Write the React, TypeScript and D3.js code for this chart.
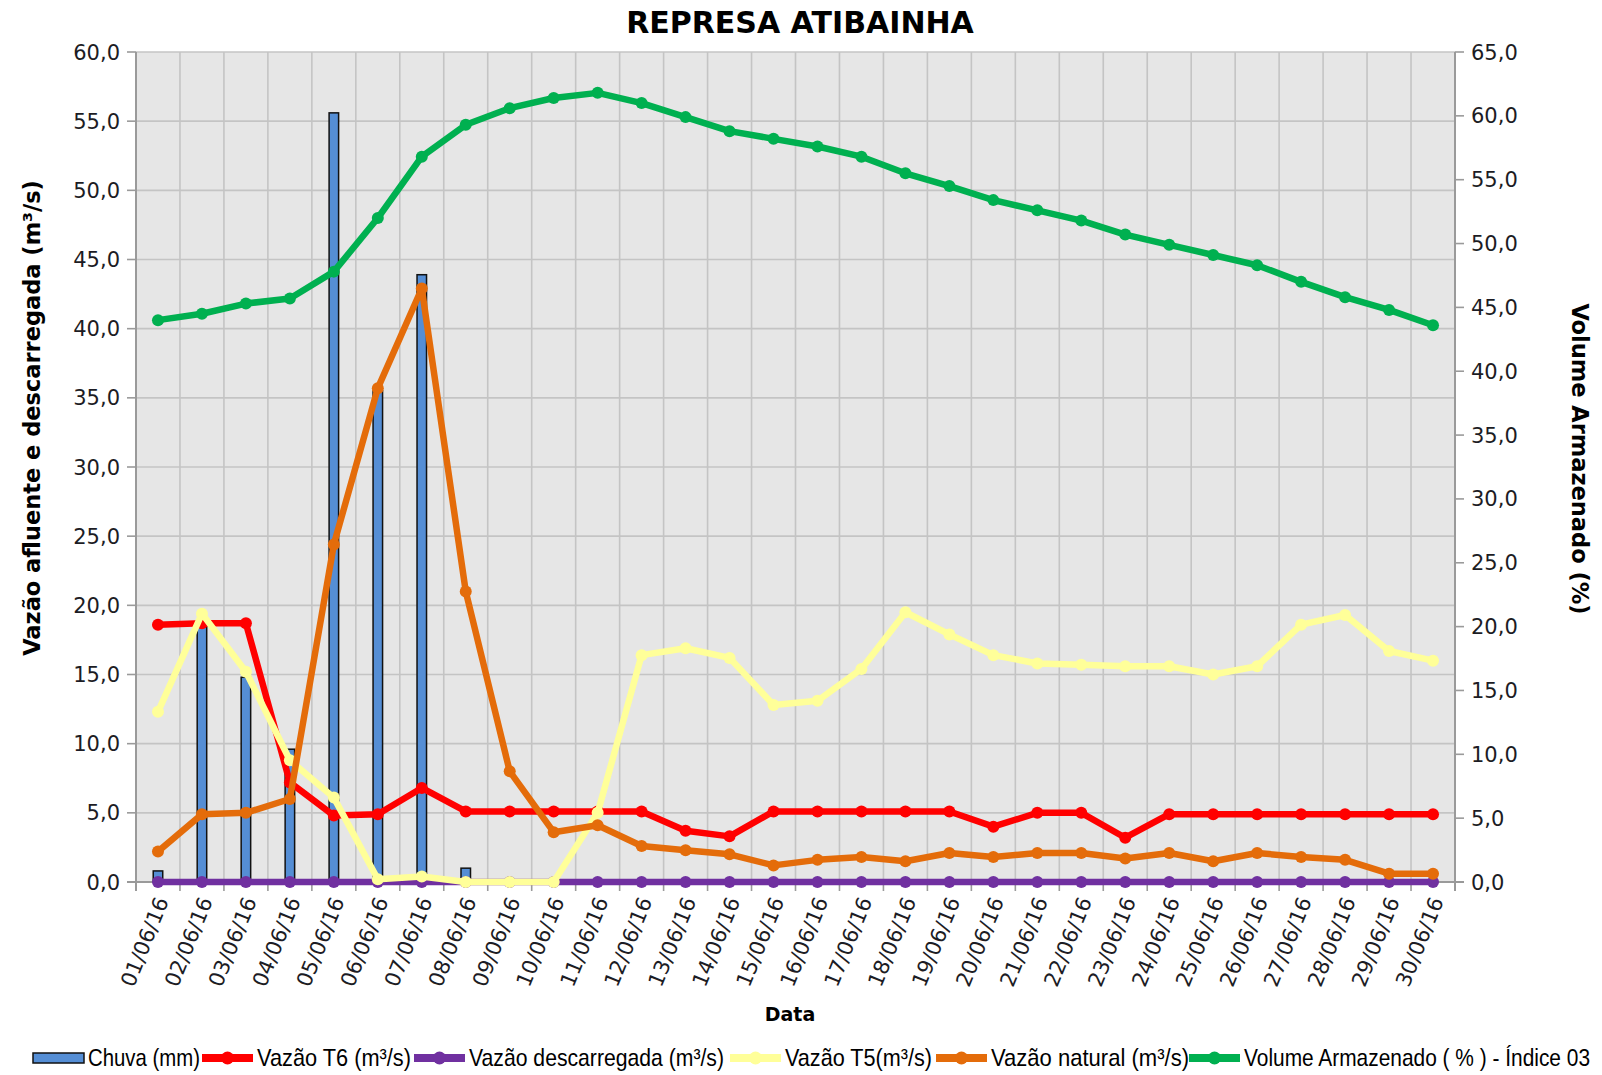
import React from 'react';
import * as d3 from 'd3';

const dates = [
  '01/06/16', '02/06/16', '03/06/16', '04/06/16', '05/06/16', '06/06/16', '07/06/16', '08/06/16', '09/06/16', '10/06/16',
  '11/06/16', '12/06/16', '13/06/16', '14/06/16', '15/06/16', '16/06/16', '17/06/16', '18/06/16', '19/06/16', '20/06/16',
  '21/06/16', '22/06/16', '23/06/16', '24/06/16', '25/06/16', '26/06/16', '27/06/16', '28/06/16', '29/06/16', '30/06/16',
];

const chuva = [0.8, 18.7, 14.8, 9.6, 55.6, 35.5, 43.9, 1.0, 0, 0, 0, 0, 0, 0, 0, 0, 0, 0, 0, 0, 0, 0, 0, 0, 0, 0, 0, 0, 0, 0];
const vazaoT6 = [18.6, 18.7, 18.7, 7.2, 4.8, 4.9, 6.8, 5.1, 5.1, 5.1, 5.1, 5.1, 3.7, 3.3, 5.1, 5.1, 5.1, 5.1, 5.1, 4.0, 5.0, 5.0, 3.2, 4.9, 4.9, 4.9, 4.9, 4.9, 4.9, 4.9];
const vazaoDescarregada = [0, 0, 0, 0, 0, 0, 0, 0, 0, 0, 0, 0, 0, 0, 0, 0, 0, 0, 0, 0, 0, 0, 0, 0, 0, 0, 0, 0, 0, 0];
const vazaoT5 = [12.3, 19.4, 15.2, 8.8, 6.1, 0.2, 0.4, 0.0, 0.0, 0.0, 5.0, 16.4, 16.9, 16.2, 12.8, 13.1, 15.4, 19.5, 17.9, 16.4, 15.8, 15.7, 15.6, 15.6, 15.0, 15.6, 18.6, 19.3, 16.7, 16.0];
const vazaoNatural = [2.2, 4.9, 5.0, 6.0, 24.4, 35.7, 42.9, 21.0, 8.0, 3.6, 4.1, 2.6, 2.3, 2.0, 1.2, 1.6, 1.8, 1.5, 2.1, 1.8, 2.1, 2.1, 1.7, 2.1, 1.5, 2.1, 1.8, 1.6, 0.6, 0.6];
const volume = [44.0, 44.5, 45.3, 45.7, 47.8, 52.0, 56.8, 59.3, 60.6, 61.4, 61.8, 61.0, 59.9, 58.8, 58.2, 57.6, 56.8, 55.5, 54.5, 53.4, 52.6, 51.8, 50.7, 49.9, 49.1, 48.3, 47.0, 45.8, 44.8, 43.6];

const leftTicks = [0, 5, 10, 15, 20, 25, 30, 35, 40, 45, 50, 55, 60];
const rightTicks = [0, 5, 10, 15, 20, 25, 30, 35, 40, 45, 50, 55, 60, 65];

const W = 1602;
const H = 1075;
const X0 = 136;
const X1 = 1455;
const Y0 = 52;
const Y1 = 882;

const TICK_FONT = '"DejaVu Sans", Verdana, sans-serif';
const TEXT = '#1c1c24';

export default function App() {
  const x = d3.scaleBand<string>().domain(dates).range([X0, X1]).padding(0);
  const yL = d3.scaleLinear().domain([0, 60]).range([Y1, Y0]);
  const yR = d3.scaleLinear().domain([0, 65]).range([Y1, Y0]);
  const cx = (d: string) => (x(d) as number) + x.bandwidth() / 2;
  const fmt = (v: number) => d3.format('.1f')(v).replace('.', ',');

  const series = [
    { name: 'Vazão T6 (m³/s)', values: vazaoT6, color: '#ff0000', y: yL },
    { name: 'Vazão descarregada (m³/s)', values: vazaoDescarregada, color: '#7030a0', y: yL },
    { name: 'Vazão T5(m³/s)', values: vazaoT5, color: '#ffff99', y: yL },
    { name: 'Vazão natural (m³/s)', values: vazaoNatural, color: '#e46c0a', y: yL },
    { name: 'Volume Armazenado ( % ) - Índice 03', values: volume, color: '#00b050', y: yR },
  ];

  const barW = 9.5;
  const legendSym = [33, 202, 414, 730, 936, 1189];
  const legendTextW = [112, 154, 255, 147, 198, 346];
  const legendY = 1058;
  const sx = 0.85;

  const legendText = (k: number, label: string) => (
    <text
      transform={`translate(${legendSym[k] + 55},${legendY}) scale(${sx},1)`}
      dy="0.35em"
      textLength={legendTextW[k] / sx}
      lengthAdjust="spacingAndGlyphs"
    >
      {label}
    </text>
  );

  return (
    <svg width={W} height={H} style={{ position: 'absolute', left: 0, top: 0, display: 'block', background: '#fff' }}>
      {/* title */}
      <text x={800} y={33} textAnchor="middle" fontFamily='"DejaVu Sans", sans-serif' fontWeight="bold" fontSize={30} fill="#000">
        REPRESA ATIBAINHA
      </text>

      {/* plot background */}
      <rect x={X0} y={Y0} width={X1 - X0} height={Y1 - Y0} fill="#e6e6e6" />

      {/* horizontal gridlines */}
      {leftTicks.map((t) => (
        <line key={'hg' + t} x1={X0} x2={X1} y1={yL(t)} y2={yL(t)} stroke="#c4c4c4" strokeWidth={1.6} />
      ))}
      {/* vertical gridlines at band boundaries */}
      {dates.map((d, i) => (
        <line key={'vg' + i} x1={x(d) as number} x2={x(d) as number} y1={Y0} y2={Y1} stroke="#c4c4c4" strokeWidth={1.6} />
      ))}

      {/* axes */}
      <line x1={X0} x2={X0} y1={Y0} y2={Y1 + 9} stroke="#9a9a9a" strokeWidth={2} />
      <line x1={X1} x2={X1} y1={Y0} y2={Y1 + 9} stroke="#9a9a9a" strokeWidth={2} />
      <line x1={X0 - 9} x2={X1 + 9} y1={Y1} y2={Y1} stroke="#9a9a9a" strokeWidth={2} />
      {leftTicks.map((t) => (
        <g key={'lt' + t}>
          <line x1={X0 - 9} x2={X0} y1={yL(t)} y2={yL(t)} stroke="#9a9a9a" strokeWidth={1.6} />
          <text x={X0 - 16} y={yL(t)} dy="0.36em" textAnchor="end" fontFamily={TICK_FONT} fontSize={21} fill={TEXT}>
            {fmt(t)}
          </text>
        </g>
      ))}
      {rightTicks.map((t) => (
        <g key={'rt' + t}>
          <line x1={X1} x2={X1 + 9} y1={yR(t)} y2={yR(t)} stroke="#9a9a9a" strokeWidth={1.6} />
          <text x={X1 + 16} y={yR(t)} dy="0.36em" textAnchor="start" fontFamily={TICK_FONT} fontSize={21} fill={TEXT}>
            {fmt(t)}
          </text>
        </g>
      ))}
      {dates.map((d, i) => (
        <line key={'xt' + i} x1={(x(d) as number) + x.bandwidth()} x2={(x(d) as number) + x.bandwidth()} y1={Y1} y2={Y1 + 9} stroke="#9a9a9a" strokeWidth={1.6} />
      ))}
      {dates.map((d) => (
        <text
          key={'xl' + d}
          transform={`translate(${cx(d) + 4},${Y1 + 16}) rotate(-68)`}
          dy="0.36em"
          textAnchor="end"
          fontFamily={TICK_FONT}
          fontSize={21}
          fill={TEXT}
        >
          {d}
        </text>
      ))}

      {/* bars */}
      {dates.map((d, i) =>
        chuva[i] > 0 ? (
          <rect
            key={'b' + d}
            x={cx(d) - barW / 2}
            y={yL(chuva[i])}
            width={barW}
            height={Y1 - yL(chuva[i])}
            fill="#558ed5"
            stroke="#111"
            strokeWidth={1.5}
          />
        ) : null
      )}

      {/* lines */}
      {series.map((s) => {
        const line = d3
          .line<number>()
          .x((_, i) => cx(dates[i]))
          .y((v) => s.y(v));
        return (
          <g key={s.name}>
            <path d={line(s.values) || ''} fill="none" stroke={s.color} strokeWidth={6.5} strokeLinejoin="round" />
            {s.values.map((v, i) => (
              <circle key={i} cx={cx(dates[i])} cy={s.y(v)} r={6} fill={s.color} />
            ))}
          </g>
        );
      })}

      {/* axis titles */}
      <text
        transform={`translate(40,418) rotate(-90)`}
        textAnchor="middle"
        fontFamily='"DejaVu Sans", sans-serif'
        fontWeight="bold"
        fontSize={22.5}
        fill="#000"
      >
        Vazão afluente e descarregada (m³/s)
      </text>
      <text
        transform={`translate(1572,459) rotate(90)`}
        textAnchor="middle"
        fontFamily='"DejaVu Sans", sans-serif'
        fontWeight="bold"
        fontSize={22.5}
        fill="#000"
      >
        Volume Armazenado (%)
      </text>
      <text x={790} y={1021} textAnchor="middle" fontFamily='"DejaVu Sans", sans-serif' fontWeight="bold" fontSize={19} fill="#000">
        Data
      </text>

      {/* legend */}
      <g fontFamily='"Liberation Sans", Arial, sans-serif' fontSize={24} fill="#000">
        <rect x={legendSym[0]} y={legendY - 5} width={51} height={10} fill="#558ed5" stroke="#111" strokeWidth={1.5} />
        {legendText(0, 'Chuva (mm)')}
        {series.map((s, k) => (
          <g key={'lg' + k}>
            <line x1={legendSym[k + 1]} x2={legendSym[k + 1] + 51} y1={legendY} y2={legendY} stroke={s.color} strokeWidth={8} />
            <circle cx={legendSym[k + 1] + 25.5} cy={legendY} r={6.5} fill={s.color} />
            {legendText(k + 1, s.name)}
          </g>
        ))}
      </g>
    </svg>
  );
}
